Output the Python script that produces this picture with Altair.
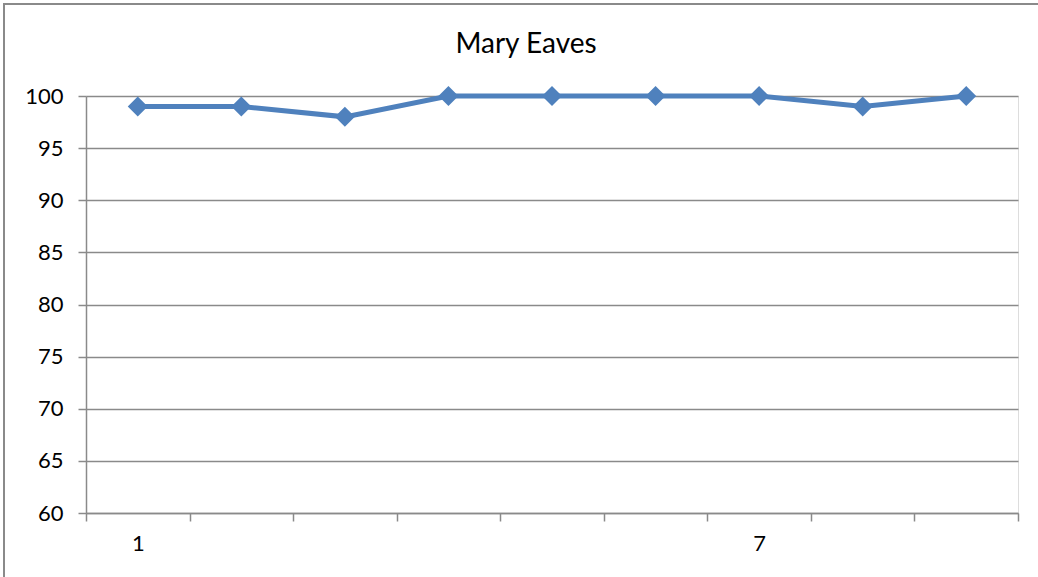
import altair as alt
import pandas as pd

chart_title = "Mary Eaves"
points = [1, 2, 3, 4, 5, 6, 7, 8, 9]
scores = [99, 99, 98, 100, 100, 100, 100, 99, 100]
y_ticks = [60, 65, 70, 75, 80, 85, 90, 95, 100]
x_tick_values = [0.5, 1, 1.5, 2, 2.5, 3, 3.5, 4, 4.5, 5, 5.5, 6, 6.5, 7, 7.5, 8, 8.5, 9, 9.5]
x_labels_shown = [1, 7]

df = pd.DataFrame({"point": points, "score": scores})
title_df = pd.DataFrame({"t": [chart_title]})

GRAY = "#8a8a8a"
BLUE = "#4F81BD"
FONT = "Lato"

label_test = " || ".join(f"datum.value == {v}" for v in x_labels_shown)

x_enc = alt.X(
    "point:Q",
    scale=alt.Scale(domain=[0.5, 9.5], nice=False, zero=False),
    axis=alt.Axis(
        title=None,
        values=x_tick_values,
        grid=False,
        labelExpr=f"({label_test}) ? format(datum.value, 'd') : ''",
        labelOverlap=False,
        labelFont=FONT,
        labelFontSize=22,
        labelColor="#000000",
        labelPadding=12,
        tickSize=8,
        tickColor=GRAY,
        tickWidth=1.5,
        tickOpacity={"condition": {"test": "datum.value % 1 == 0", "value": 0}, "value": 1},
        domainColor=GRAY,
        domainWidth=1.5,
    ),
)

y_enc = alt.Y(
    "score:Q",
    scale=alt.Scale(domain=[60, 100], nice=False, zero=False),
    axis=alt.Axis(
        title=None,
        values=y_ticks,
        grid=True,
        gridColor=GRAY,
        gridWidth=1.5,
        labelFont=FONT,
        labelFontSize=22,
        labelColor="#000000",
        labelPadding=15,
        tickSize=8,
        tickColor=GRAY,
        tickWidth=1.5,
        domainColor=GRAY,
        domainWidth=1.5,
    ),
)

line = alt.Chart(df).mark_line(color=BLUE, strokeWidth=5).encode(x=x_enc, y=y_enc)
pts = alt.Chart(df).mark_point(
    shape="diamond", filled=True, color=BLUE, size=400, opacity=1
).encode(x="point:Q", y="score:Q")

border = alt.Chart(df).mark_rect(
    fill=None, stroke=GRAY, strokeWidth=1.5
).encode(
    x=alt.value(-82), y=alt.value(-92), x2=alt.value(1000), y2=alt.value(600)
)

title_mark = alt.Chart(title_df).mark_text(
    font=FONT, fontSize=28, color="#000000", align="center", baseline="middle"
).encode(text="t:N", x=alt.value(440), y=alt.value(-51))

chart = (
    alt.layer(border, line, pts, title_mark)
    .properties(
        width=932,
        height=417,
        padding={"left": 86, "top": 96, "right": 20, "bottom": 64},
        autosize=alt.AutoSizeParams(type="none"),
    )
    .configure_view(stroke=None)
    .configure(background="white")
)

chart.save("out.html", embed_options={"renderer": "svg", "actions": False})
